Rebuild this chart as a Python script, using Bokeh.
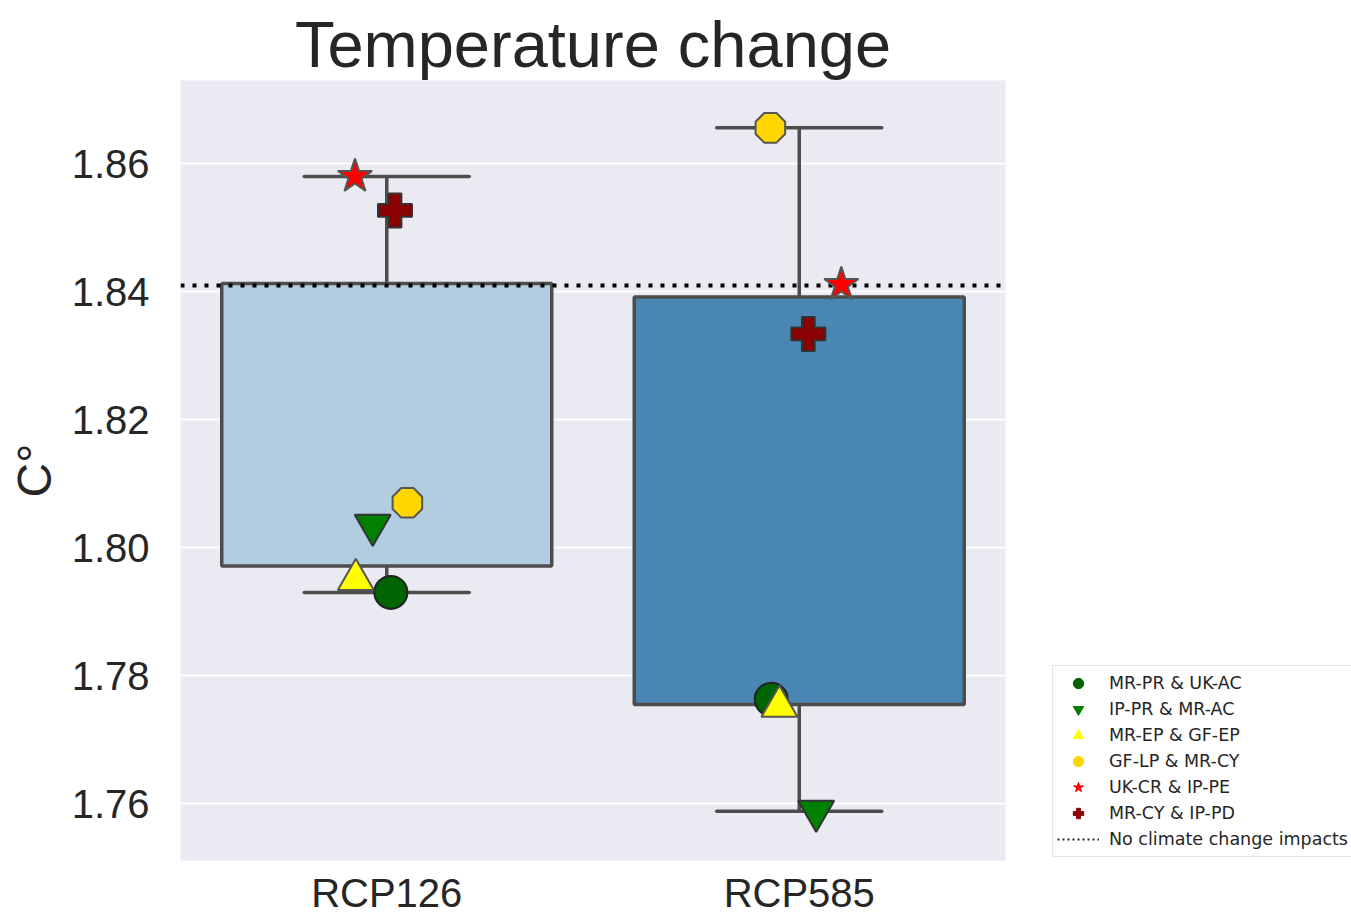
import numpy as np
from bokeh.plotting import figure
from bokeh.layouts import row
from bokeh.models import (Legend, LegendItem, FixedTicker, NumeralTickFormatter,
                          Range1d, BoxAnnotation)
from bokeh.embed import file_html
from bokeh.resources import INLINE

# ---- data ----
categories = ["RCP126", "RCP585"]
series_names = ["MR-PR & UK-AC", "IP-PR & MR-AC", "MR-EP & GF-EP",
                "GF-LP & MR-CY", "UK-CR & IP-PE", "MR-CY & IP-PD"]
# values per series: [RCP126, RCP585]
vals_mrpr = [1.7930, 1.7763]
vals_ippr = [1.8035, 1.7588]
vals_mrep = [1.7950, 1.7752]
vals_gflp = [1.8070, 1.8656]
vals_ukcr = [1.8580, 1.8411]
vals_mrcy = [1.8527, 1.8334]
# strip-plot jitter (category units)
jit_mrpr = [0.010, -0.068]
jit_ippr = [-0.034, 0.041]
jit_mrep = [-0.075, -0.048]
jit_gflp = [0.050, -0.070]
jit_ukcr = [-0.077, 0.102]
jit_mrcy = [0.020, 0.022]
baseline = 1.841
baseline_label = "No climate change impacts"
y_ticks = [1.76, 1.78, 1.80, 1.82, 1.84, 1.86]

all_vals = [vals_mrpr, vals_ippr, vals_mrep, vals_gflp, vals_ukcr, vals_mrcy]
xpos = list(range(len(categories)))
q1, q3, lo, hi = [], [], [], []
for i in xpos:
    v = np.array([s[i] for s in all_vals])
    q1.append(float(np.percentile(v, 25)))
    q3.append(float(np.percentile(v, 75)))
    lo.append(float(v.min()))
    hi.append(float(v.max()))

FONT = "Liberation Sans"
TXT = "#262626"
EDGE = "#4d4d4d"

p = figure(width=1040, height=922, output_backend="svg", toolbar_location=None,
           x_range=Range1d(-0.5, 1.5), y_range=Range1d(1.7511, 1.8730),
           min_border_left=180, min_border_right=35, min_border_top=80,
           min_border_bottom=62, title="Temperature change")
p.background_fill_color = "#eaeaf2"
p.border_fill_color = "white"
p.outline_line_color = None

p.title.text_font = FONT
p.title.text_font_size = "65px"
p.title.text_font_style = "normal"
p.title.text_color = TXT
p.title.align = "center"
p.title.standoff = 0

p.xaxis.ticker = FixedTicker(ticks=xpos)
p.xaxis.major_label_overrides = {i: c for i, c in enumerate(categories)}
p.yaxis.ticker = FixedTicker(ticks=y_ticks)
p.yaxis.formatter = NumeralTickFormatter(format="0.00")
for ax in (p.xaxis[0], p.yaxis[0]):
    ax.axis_line_color = None
    ax.major_tick_line_color = None
    ax.minor_tick_line_color = None
    ax.major_tick_out = 0
    ax.major_tick_in = 0
    ax.major_label_text_font = FONT
    ax.major_label_text_font_size = "40px"
    ax.major_label_text_color = TXT
p.xaxis.major_label_standoff = 10
p.yaxis.major_label_standoff = 31
p.yaxis.axis_label = "C°"
p.yaxis.axis_label_text_font = FONT
p.yaxis.axis_label_text_font_size = "48px"
p.yaxis.axis_label_text_font_style = "normal"
p.yaxis.axis_label_text_color = TXT
p.yaxis.axis_label_standoff = 8

p.xgrid.grid_line_color = None
p.ygrid.grid_line_color = "white"
p.ygrid.grid_line_width = 2

box_colors = ["#b3cde0", "#4a86b2"]
p.vbar(x=xpos, bottom=q1, top=q3, width=0.8, fill_color=box_colors,
       line_color=EDGE, line_width=3.5)
p.segment(x0=xpos, y0=q3, x1=xpos, y1=hi, line_color=EDGE, line_width=3.5)
p.segment(x0=xpos, y0=q1, x1=xpos, y1=lo, line_color=EDGE, line_width=3.5)
p.segment(x0=[x - 0.2 for x in xpos], y0=hi, x1=[x + 0.2 for x in xpos], y1=hi,
          line_color=EDGE, line_width=3.5, line_cap="round")
p.segment(x0=[x - 0.2 for x in xpos], y0=lo, x1=[x + 0.2 for x in xpos], y1=lo,
          line_color=EDGE, line_width=3.5, line_cap="round")

p.hspan(y=[baseline], line_color="black", line_width=4, line_dash="4 8")

def xs(j):
    return [x + d for x, d in zip(xpos, j)]

styles = [
    dict(marker="circle", size=33, fill_color="#006400", line_color="#222222"),
    dict(marker="inverted_triangle", size=36, fill_color="#008000", line_color="#333333"),
    dict(marker="triangle", size=36, fill_color="#ffff00", line_color="#555555"),
    None,
    dict(marker="star", size=36, fill_color="#ff0000", line_color="#555555"),
    dict(marker="plus", size=34, fill_color="#8b0000", line_color="#333333"),
]
jits = [jit_mrpr, jit_ippr, jit_mrep, jit_gflp, jit_ukcr, jit_mrcy]
for vals, jit, st in zip(all_vals, jits, styles):
    if st is None:
        p.ngon(x=xs(jit), y=vals, radius=16, radius_units="screen", n=8,
               angle=np.pi / 8, fill_color="#ffd700", line_color="#555555", line_width=2)
    else:
        p.scatter(xs(jit), vals, line_width=2, **st)

# ---- legend panel (separate canvas to the right; frame is aligned to the main one) ----
lg = figure(width=311, height=922, output_backend="svg", toolbar_location=None,
            x_range=Range1d(0, 311), y_range=Range1d(62, 842),
            min_border=0, x_axis_type=None, y_axis_type=None)
lg.outline_line_color = None
lg.background_fill_color = "white"
lg.border_fill_color = "white"
lg.grid.visible = False

leg_markers = ["circle", "inverted_triangle", "triangle", "circle", "star", "plus"]
leg_colors = ["#006400", "#008000", "#ffff00", "#ffd700", "#ff0000", "#8b0000"]
items = []
for name, m, c, vals, jit in zip(series_names, leg_markers, leg_colors, all_vals, jits):
    r = lg.scatter(x=xs(jit), y=vals, marker=m, fill_color=c, line_color=c,
                   line_width=1, visible=False)
    items.append(LegendItem(label=name, renderers=[r]))
rl = lg.line(x=xpos, y=[baseline] * len(xpos), line_color="#222222", line_width=2,
             line_dash="2 3", visible=False)
items.append(LegendItem(label=baseline_label, renderers=[rl]))

legend = Legend(items=items, location=(12, 3), margin=0, padding=4,
                glyph_width=42, glyph_height=26, label_height=26, spacing=0,
                label_standoff=10, label_text_font="DejaVu Sans",
                label_text_font_size="17.5px", label_text_color=TXT,
                border_line_color="#cccccc", border_line_width=1,
                background_fill_color="white", background_fill_alpha=1.0)
lg.add_layout(legend, "center")

# dark blue block cut off at the lower right corner
lg.add_layout(BoxAnnotation(left=161, right=259, bottom=0, top=27,
                            fill_color="#17406f", fill_alpha=1.0, line_color=None))

layout = row(p, lg, spacing=0)
open("out.html", "w").write(file_html(layout, INLINE))
